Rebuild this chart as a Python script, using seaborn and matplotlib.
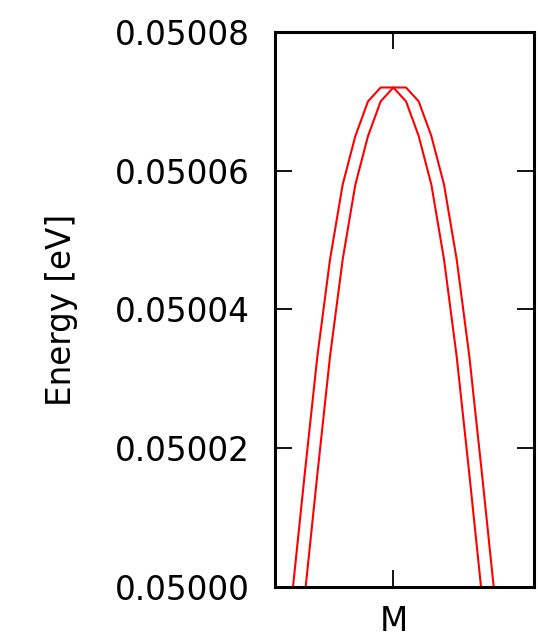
import numpy as np
import pandas as pd
import matplotlib
matplotlib.use("Agg")
import matplotlib.pyplot as plt
import seaborn as sns

# ---- data ----
k_points = [-8, -7, -6, -5, -4, -3, -2, -1, 0, 1, 2, 3, 4, 5, 6, 7, 8]
band_outer = [0.0499986, 0.0500162, 0.0500332, 0.0500472, 0.0500580, 0.0500650,
              0.0500700, 0.0500720, 0.0500720, 0.0500720, 0.0500700, 0.0500650,
              0.0500580, 0.0500472, 0.0500332, 0.0500162, 0.0499986]
band_inner = [0.0499800, 0.0499986, 0.0500162, 0.0500332, 0.0500472, 0.0500580,
              0.0500650, 0.0500700, 0.0500720, 0.0500700, 0.0500650, 0.0500580,
              0.0500472, 0.0500332, 0.0500162, 0.0499986, 0.0499800]
y_ticks = [0.05000, 0.05002, 0.05004, 0.05006, 0.05008]
x_tick_pos = [0]
x_tick_labels = ["M"]

df = pd.DataFrame({
    "k": k_points * 2,
    "E": band_outer + band_inner,
    "band": ["outer"] * len(k_points) + ["inner"] * len(k_points),
})

sns.set_theme(style="white")
plt.rcParams["font.family"] = ["DejaVu Sans"]

fig = plt.figure(figsize=(5.38, 6.38), dpi=100)
ax = fig.add_axes([275 / 538, 1 - 587 / 638, (534 - 275) / 538, (587 - 32) / 638])

sns.lineplot(data=df, x="k", y="E", hue="band", palette={"outer": "#ff0000", "inner": "#ff0000"},
             estimator=None, sort=True, legend=False, linewidth=1.5, ax=ax)

ax.set_xlim(-9.34, 11.1)
ax.set_ylim(0.05000, 0.05008)
ax.set_yticks(y_ticks)
ax.set_yticklabels([f"{v:.5f}" for v in y_ticks])
ax.set_xticks(x_tick_pos)
ax.set_xticklabels(x_tick_labels)
ax.set_xlabel("")
ax.set_ylabel("Energy [eV]", fontsize=23.5, color="black", labelpad=27)

ax.tick_params(axis="both", direction="in", length=12, width=1.3, color="black",
               labelsize=23.5, labelcolor="black")
ax.tick_params(axis="y", left=True, right=True, pad=18)
ax.tick_params(axis="x", bottom=True, top=True, pad=13)

for s in ax.spines.values():
    s.set_visible(True)
    s.set_color("black")
    s.set_linewidth(2.2)

fig.savefig("out.png", dpi=100)
